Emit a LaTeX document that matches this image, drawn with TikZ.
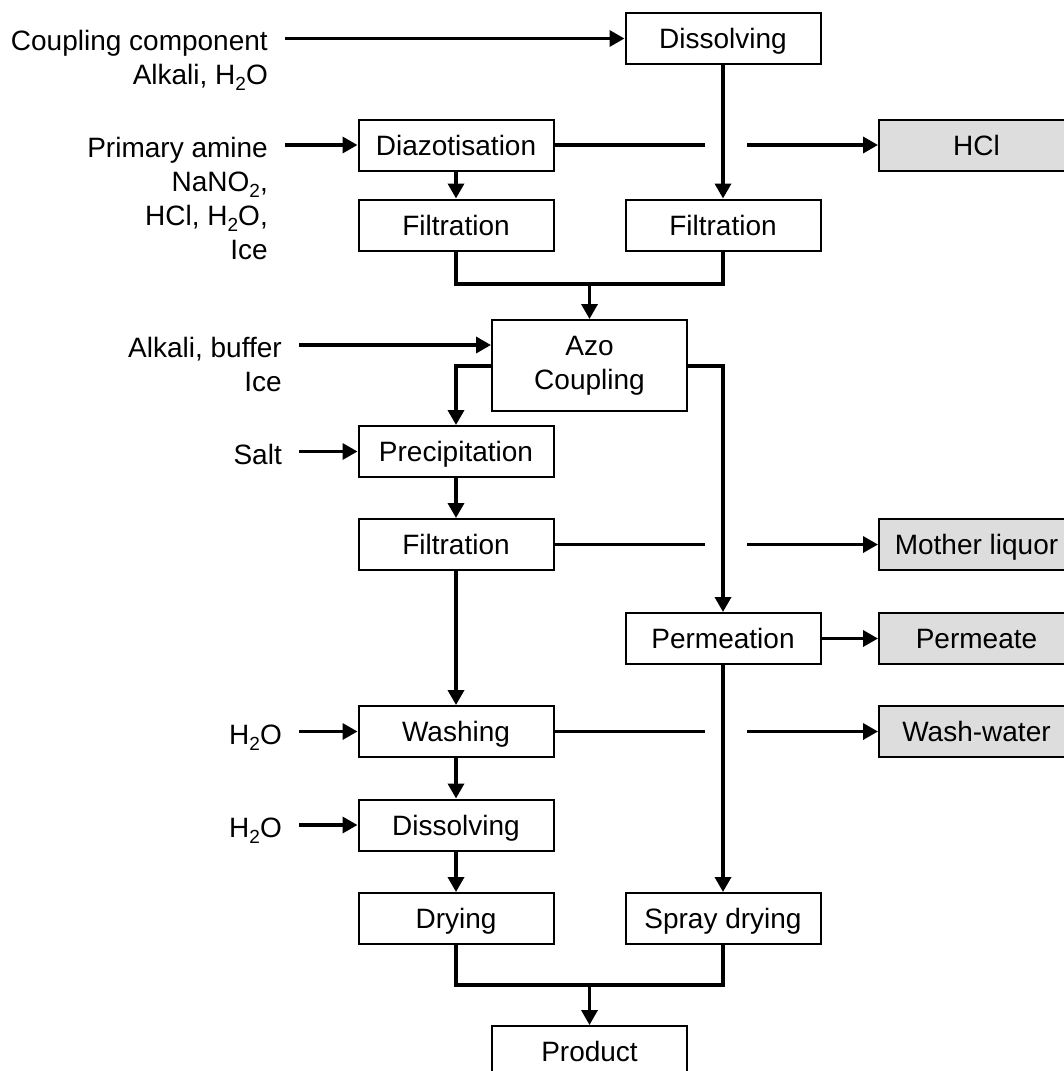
\documentclass[tikz,border=0pt]{standalone}
\usepackage{fontspec}
\setmainfont{Liberation Sans}
\usetikzlibrary{arrows.meta,calc}
\definecolor{boxgray}{HTML}{DDDDDD}
\newcommand{\mysub}[1]{\raisebox{-6.5pt}{\fontsize{19}{19}\selectfont #1}}
\begin{document}
\begin{tikzpicture}[x=1pt,y=-1pt,
  font=\fontsize{28}{34}\selectfont,
  box/.style={draw=black,line width=2pt,minimum width=195pt,minimum height=51pt,inner sep=0pt,align=center,fill=white,text height=20pt,text depth=0pt},
  outbox/.style={box,fill=boxgray},
  lbl/.style={anchor=base east,inner sep=0pt},
  conn/.style={line width=3.5pt},
  arr/.style={conn,-{Triangle[length=15pt,width=16pt]}}]
\useasboundingbox (0,0) rectangle (1064,1071);
\clip (0,0) rectangle (1064,1071);
% boxes
\node[box] (diss1) at (723,38.5) {Dissolving};
\node[box] (diaz) at (456,145) {Diazotisation};
\node[box] (filt1) at (456,225) {Filtration};
\node[box] (filt2) at (723,225) {Filtration};
\node[outbox] (hcl) at (976.5,145) {HCl};
\node[draw=black,line width=2pt,minimum width=195pt,minimum height=91pt,inner sep=0pt,align=center,fill=white] (azo) at (589.5,365.5) {Azo\\Coupling};
\node[box] (precip) at (456,451.5) {Precipitation};
\node[box] (filt3) at (456,544.5) {Filtration};
\node[outbox] (mother) at (976.5,544.5) {Mother liquor};
\node[box] (perm) at (723,638.5) {Permeation};
\node[outbox] (permeate) at (976.5,638.5) {Permeate};
\node[box] (wash) at (456,731.5) {Washing};
\node[outbox] (washw) at (976.5,731.5) {Wash-water};
\node[box] (diss2) at (456,825) {Dissolving};
\node[box] (dry) at (456,918.5) {Drying};
\node[box] (spray) at (723,918.5) {Spray drying};
\node[box] (prod) at (589.5,1051.5) {Product};
% labels
\node[lbl] (cc1) at (268,50) {Coupling component};
\node[lbl] (cc2) at (268,84) {Alkali, H\mysub{2}O};
\node[lbl] (pa1) at (268,157) {Primary amine};
\node[lbl] (pa2) at (268,191) {NaNO\mysub{2},};
\node[lbl] (pa3) at (268,225) {HCl, H\mysub{2}O,};
\node[lbl] (pa4) at (268,259) {Ice};
\node[lbl] (ab1) at (282,357) {Alkali, buffer};
\node[lbl] (ab2) at (282,391) {Ice};
\node[lbl] (salt) at (282,464) {Salt};
\node[lbl] (w1) at (282,744) {H\mysub{2}O};
\node[lbl] (w2) at (282,837) {H\mysub{2}O};
% input arrows
\draw[arr] (285,0 |- diss1.west) -- (diss1.west);
\draw[arr] (285,0 |- diaz.west) -- (diaz.west);
\draw[arr] (299,345) -- ([yshift=20.5pt]azo.west);
\draw[arr] (299,0 |- precip.west) -- (precip.west);
\draw[arr] (299,0 |- wash.west) -- (wash.west);
\draw[arr] (299,0 |- diss2.west) -- (diss2.west);
% coordinates for crossings
\coordinate (g1a) at (705,0 |- diaz.east);
\coordinate (g1b) at (747,0 |- diaz.east);
\coordinate (g2a) at (705,0 |- filt3.east);
\coordinate (g2b) at (747,0 |- filt3.east);
\coordinate (g3a) at (705,0 |- wash.east);
\coordinate (g3b) at (747,0 |- wash.east);
\coordinate (m1) at (589.5,284);
\coordinate (m2) at (589.5,985);
% flows
\draw[arr] (diss1.south) -- (filt2.north);
\draw[arr] (diaz.south) -- (filt1.north);
\draw[conn] (diaz.east) -- (g1a);
\draw[arr] (g1b) -- (hcl.west);
\draw[conn] (filt1.south) -- (filt1.south |- m1) -- (filt2.south |- m1) -- (filt2.south);
\draw[arr] (m1) -- (azo.north);
\draw[arr] ([yshift=-0.5pt]azo.west) -- (456,366) -- (precip.north);
\draw[arr] ([yshift=-0.5pt]azo.east) -- (723,366) -- (perm.north);
\draw[arr] (precip.south) -- (filt3.north);
\draw[conn] (filt3.east) -- (g2a);
\draw[arr] (g2b) -- (mother.west);
\draw[arr] (filt3.south) -- (wash.north);
\draw[arr] (perm.east) -- (permeate.west);
\draw[arr] (perm.south) -- (spray.north);
\draw[conn] (wash.east) -- (g3a);
\draw[arr] (g3b) -- (washw.west);
\draw[arr] (wash.south) -- (diss2.north);
\draw[arr] (diss2.south) -- (dry.north);
\draw[conn] (dry.south) -- (dry.south |- m2) -- (spray.south |- m2) -- (spray.south);
\draw[arr] (m2) -- (prod.north);
\end{tikzpicture}
\end{document}
